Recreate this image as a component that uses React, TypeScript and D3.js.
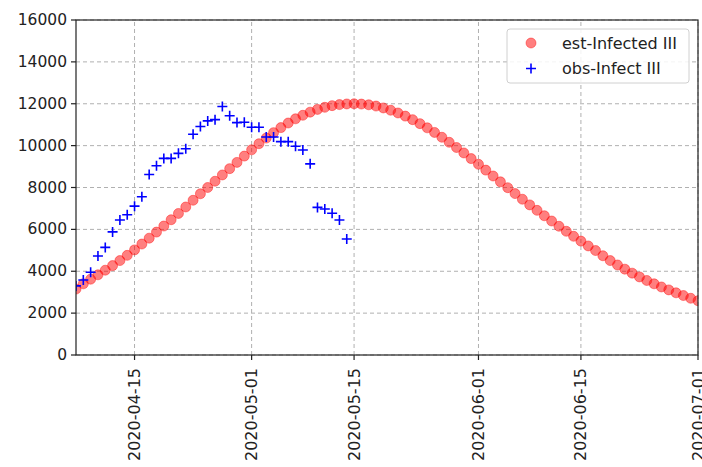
import React from "react";
import * as d3 from "d3";

const START_DATE = "2020-04-07";

// est-Infected III : one value per day starting 2020-04-07
const estInfected: number[] = [
  3150, 3400, 3620, 3830, 4050, 4270, 4510, 4760, 5020, 5300,
  5580, 5870, 6160, 6460, 6760, 7070, 7390, 7700, 8000, 8300,
  8600, 8900, 9200, 9500, 9800, 10090, 10360, 10620, 10860, 11080,
  11280, 11450, 11600, 11730, 11830, 11910, 11960, 11990, 12000, 11985,
  11950, 11890, 11800, 11690, 11560, 11410, 11240, 11050, 10850, 10630,
  10400, 10160, 9910, 9650, 9380, 9110, 8830, 8550, 8270, 7990,
  7710, 7440, 7170, 6910, 6650, 6400, 6150, 5910, 5670, 5440,
  5210, 4990, 4740, 4510, 4300, 4100, 3910, 3730, 3560, 3400,
  3250, 3110, 2970, 2840, 2710, 2590,
];

// obs-Infect III : one value per day starting 2020-04-07
const obsInfect: number[] = [
  3300, 3580, 3950, 4730, 5140, 5880, 6450, 6700, 7110, 7560,
  8620, 9040, 9390, 9390, 9630, 9850, 10540, 10910, 11180, 11240,
  11870, 11430, 11100, 11120, 10880, 10880, 10410, 10410, 10190, 10190,
  9970, 9790, 9130, 7050, 6970, 6770, 6450, 5540,
];

const xDomain: string[] = ["2020-04-07", "2020-07-01"];
const xTickLabels: string[] = ["2020-04-15", "2020-05-01", "2020-05-15", "2020-06-01", "2020-06-15", "2020-07-01"];
const yTicks: number[] = [0, 2000, 4000, 6000, 8000, 10000, 12000, 14000, 16000];
const legendLabels: string[] = ["est-Infected III", "obs-Infect III"];

const W = 702;
const H = 467;
const M = { left: 76, right: 4, top: 20, bottom: 112 };
const FONT = "'DejaVu Sans', sans-serif";

const parse = (s: string) => {
  const [y, m, d] = s.split("-").map(Number);
  return new Date(Date.UTC(y, m - 1, d));
};
const dayAt = (i: number) => d3.utcDay.offset(parse(START_DATE), i);

export default function App() {
  const x = d3
    .scaleUtc()
    .domain(xDomain.map(parse))
    .range([M.left, W - M.right]);
  const y = d3
    .scaleLinear()
    .domain([0, 16000])
    .range([H - M.bottom, M.top]);

  const x0 = M.left;
  const x1 = W - M.right;
  const y0 = H - M.bottom;
  const y1 = M.top;

  const gridColor = "#b0b0b0";
  const plus = 5;

  return (
    <div style={{ position: "absolute", left: 0, top: 0 }}>
      <svg width={W} height={H} style={{ display: "block", background: "#fff" }}>
        <defs>
          <clipPath id="plotClip">
            <rect x={x0} y={y1} width={x1 - x0} height={y0 - y1} />
          </clipPath>
        </defs>
        {/* grid */}
        <g>
          {yTicks.map((t) => (
            <line
              key={"gy" + t}
              x1={x0}
              x2={x1}
              y1={y(t)}
              y2={y(t)}
              stroke={gridColor}
              strokeWidth={1}
              strokeDasharray="4,3"
            />
          ))}
          {xTickLabels.map((t) => (
            <line
              key={"gx" + t}
              x1={x(parse(t))}
              x2={x(parse(t))}
              y1={y0}
              y2={y1}
              stroke={gridColor}
              strokeWidth={1}
              strokeDasharray="4,3"
            />
          ))}
        </g>
        {/* data */}
        <g clipPath="url(#plotClip)">
          {estInfected.map((v, i) => (
            <circle
              key={"e" + i}
              cx={x(dayAt(i))}
              cy={y(v)}
              r={5}
              fill="#ff0000"
              fillOpacity={0.5}
              stroke="#ff0000"
              strokeOpacity={0.5}
              strokeWidth={0.8}
            />
          ))}
          {obsInfect.map((v, i) => {
            const cx = x(dayAt(i));
            const cy = y(v);
            return (
              <path
                key={"o" + i}
                d={`M${cx - plus},${cy}H${cx + plus}M${cx},${cy - plus}V${cy + plus}`}
                stroke="#0000ff"
                strokeWidth={1.6}
                fill="none"
              />
            );
          })}
        </g>
        {/* axes frame */}
        <rect x={x0} y={y1} width={x1 - x0} height={y0 - y1} fill="none" stroke="#222" strokeWidth={1.2} />
        {/* y ticks */}
        {yTicks.map((t) => (
          <g key={"yt" + t}>
            <line x1={x0 - 5} x2={x0} y1={y(t)} y2={y(t)} stroke="#222" strokeWidth={1.2} />
            <text
              x={x0 - 9}
              y={y(t)}
              textAnchor="end"
              dominantBaseline="central"
              fontFamily={FONT}
              fontSize={15.5}
              fill="#222"
            >
              {t}
            </text>
          </g>
        ))}
        {/* x ticks */}
        {xTickLabels.map((t) => {
          const px = x(parse(t));
          return (
            <g key={"xt" + t}>
              <line x1={px} x2={px} y1={y0} y2={y0 + 5} stroke="#222" strokeWidth={1.2} />
              <text
                transform={`translate(${px},${y0 + 13}) rotate(-90)`}
                textAnchor="end"
                dominantBaseline="central"
                fontFamily={FONT}
                fontSize={16}
                fill="#222"
              >
                {t}
              </text>
            </g>
          );
        })}
        {/* legend */}
        <g>
          <rect x={507} y={29} width={182} height={54} rx={3} fill="#fff" fillOpacity={0.85} stroke="#d0d0d0" strokeWidth={1} />
          <circle cx={531} cy={43} r={5} fill="#ff0000" fillOpacity={0.5} stroke="#ff0000" strokeOpacity={0.5} strokeWidth={0.8} />
          <path d={`M${531 - plus},68.5H${531 + plus}M531,${68.5 - plus}V${68.5 + plus}`} stroke="#0000ff" strokeWidth={1.6} />
          {legendLabels.map((l, i) => (
            <text
              key={l}
              x={562}
              y={43 + i * 25.5}
              dominantBaseline="central"
              fontFamily={FONT}
              fontSize={16}
              fill="#222"
            >
              {l}
            </text>
          ))}
        </g>
      </svg>
    </div>
  );
}
